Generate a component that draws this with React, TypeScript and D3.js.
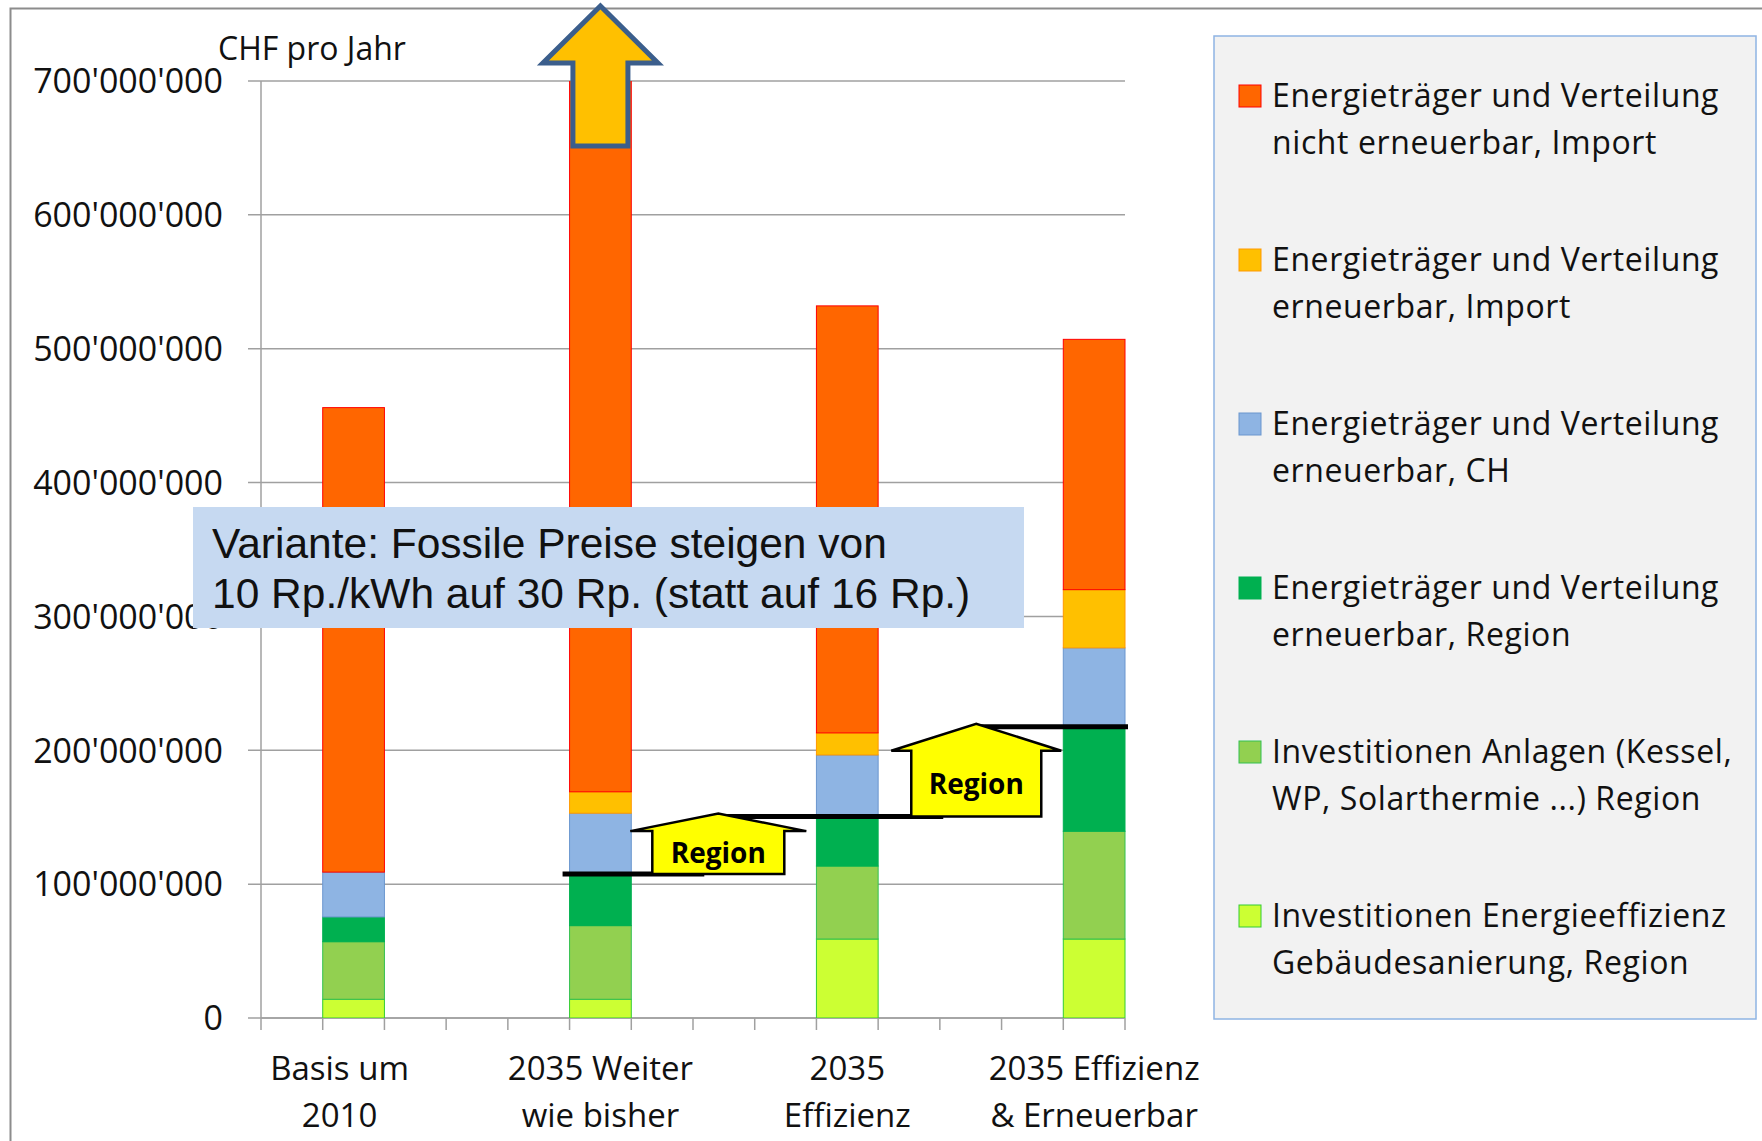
import React from 'react';
import * as d3 from 'd3';

// categories sit in every 4th slot of a 14-slot axis (Excel style with empty columns)
const categories = ['Basis um 2010', '2035 Weiter wie bisher', '2035 Effizienz', '2035 Effizienz & Erneuerbar'];
const categoryLines = [['Basis um', '2010'], ['2035 Weiter', 'wie bisher'], ['2035', 'Effizienz'], ['2035 Effizienz', '& Erneuerbar']];
const categorySlots = [1, 5, 9, 13];
const slotCount = 14;

// CHF pro Jahr, in Millionen (bottom to top of each stack)
const gebaeude = [14, 14, 59, 59];
const anlagen = [43, 55, 54.5, 80.5];
const etRegion = [18.5, 38.5, 37, 78];
const etCH = [33.5, 45.5, 46, 59];
const etErnImport = [0, 16, 16.5, 43.5];
const etNichtErnImport = [347, 780, 319, 187];

const yTicks = [0, 100, 200, 300, 400, 500, 600, 700];

const seriesKeys = ['gebaeude', 'anlagen', 'etRegion', 'etCH', 'etErnImport', 'etNichtErnImport'];
const seriesFill: Record<string, string> = {
  gebaeude: '#CCFF33',
  anlagen: '#92D050',
  etRegion: '#00B050',
  etCH: '#8EB4E3',
  etErnImport: '#FFC000',
  etNichtErnImport: '#FF6600',
};
const seriesStroke: Record<string, string> = {
  gebaeude: '#33CC33',
  anlagen: '#33C050',
  etRegion: '#00B050',
  etCH: '#6A96CE',
  etErnImport: '#FF9900',
  etNichtErnImport: '#FF0000',
};
const legendItems = [
  { key: 'etNichtErnImport', lines: ['Energieträger und Verteilung', 'nicht erneuerbar, Import'] },
  { key: 'etErnImport', lines: ['Energieträger und Verteilung', 'erneuerbar, Import'] },
  { key: 'etCH', lines: ['Energieträger und Verteilung', 'erneuerbar, CH'] },
  { key: 'etRegion', lines: ['Energieträger und Verteilung', 'erneuerbar, Region'] },
  { key: 'anlagen', lines: ['Investitionen Anlagen (Kessel,', 'WP, Solarthermie ...) Region'] },
  { key: 'gebaeude', lines: ['Investitionen Energieeffizienz', 'Gebäudesanierung, Region'] },
];

const note = ['Variante: Fossile Preise steigen von', '10 Rp./kWh auf 30 Rp. (statt auf 16 Rp.)'];

const sans = "'Open Sans', sans-serif";

export default function App() {
  const width = 1762;
  const height = 1141;
  const plot = { left: 261, right: 1125, top: 81, bottom: 1018 };

  const x = d3.scaleBand<number>().domain(d3.range(slotCount)).range([plot.left, plot.right]).padding(0);
  const y = d3.scaleLinear().domain([0, 700e6]).range([plot.bottom, plot.top]);
  const bw = x.bandwidth();

  const rows = categories.map((c, i) => ({
    slot: categorySlots[i],
    gebaeude: gebaeude[i] * 1e6,
    anlagen: anlagen[i] * 1e6,
    etRegion: etRegion[i] * 1e6,
    etCH: etCH[i] * 1e6,
    etErnImport: etErnImport[i] * 1e6,
    etNichtErnImport: etNichtErnImport[i] * 1e6,
  }));
  const stacked = d3.stack<any>().keys(seriesKeys)(rows);

  const fmt = (v: number) => d3.format(',')(v).replace(/,/g, "'");

  // regional share = Gebäude + Anlagen + Energieträger Region
  const regional = rows.map(r => r.gebaeude + r.anlagen + r.etRegion);

  const arrowPath = (xc: number, yBottom: number, yTop: number, bodyHalf: number, wingHalf: number) => {
    const tip = yTop - 3;
    const shoulder = yBottom - 0.71 * (yBottom - tip);
    return `M${xc - bodyHalf},${yBottom} L${xc - bodyHalf},${shoulder} L${xc - wingHalf},${shoulder} L${xc},${tip} L${xc + wingHalf},${shoulder} L${xc + bodyHalf},${shoulder} L${xc + bodyHalf},${yBottom} Z`;
  };

  const a1x = (x(7) as number) + 0.41 * bw;
  const a2x = (x(11) as number) + 0.59 * bw;
  const lv1 = y(regional[1]);
  const lv2 = y(regional[2]);
  const lv3 = y(regional[3]);

  const weiterCx = (x(categorySlots[1]) as number) + bw / 2;
  const bigArrow = (() => {
    const tip = plot.top - 75;
    const sh = plot.top - 18;
    const bot = plot.top + 65;
    return `M${weiterCx - 27.5},${bot} L${weiterCx - 27.5},${sh} L${weiterCx - 57.5},${sh} L${weiterCx},${tip} L${weiterCx + 57.5},${sh} L${weiterCx + 27.5},${sh} L${weiterCx + 27.5},${bot} Z`;
  })();

  return (
    <div style={{ position: 'absolute', left: 0, top: 0 }}>
      <svg width={width} height={height} style={{ display: 'block', background: '#fff' }}>
        <defs>
          <clipPath id="plotClip">
            <rect x={plot.left - 2} y={plot.top} width={plot.right - plot.left + 4} height={plot.bottom - plot.top} />
          </clipPath>
        </defs>
        {/* outer frame */}
        <rect x={10.5} y={8.5} width={1800} height={1200} fill="none" stroke="#8C8C8C" strokeWidth={2} />

        {/* gridlines + y labels */}
        {yTicks.map(t => (
          <g key={t}>
            <line x1={plot.left - 13} x2={plot.right} y1={y(t * 1e6)} y2={y(t * 1e6)} stroke="#A0A0A0" strokeWidth={1.5} />
            <text x={223} y={y(t * 1e6)} dy="0.36em" textAnchor="end" fontFamily={sans} fontSize={34} fill="#111">
              {fmt(t * 1e6)}
            </text>
          </g>
        ))}
        <text x={218} y={60} fontFamily={sans} fontSize={32} fill="#111">CHF pro Jahr</text>

        {/* axes */}
        <line x1={plot.left} x2={plot.left} y1={plot.top} y2={plot.bottom} stroke="#A0A0A0" strokeWidth={1.5} />
        <line x1={plot.left} x2={plot.right} y1={plot.bottom} y2={plot.bottom} stroke="#A0A0A0" strokeWidth={1.5} />
        {d3.range(slotCount + 1).map(i => {
          const xx = plot.left + i * bw;
          return <line key={i} x1={xx} x2={xx} y1={plot.bottom} y2={plot.bottom + 12} stroke="#A0A0A0" strokeWidth={1.5} />;
        })}

        {/* bars */}
        <g clipPath="url(#plotClip)">
          {stacked.map(s => (
            <g key={s.key}>
              {s.map((d, i) => {
                const h = y(d[0]) - y(d[1]);
                if (h <= 0) return null;
                return (
                  <rect
                    key={i}
                    x={x(rows[i].slot)}
                    y={y(d[1])}
                    width={bw}
                    height={h}
                    fill={seriesFill[s.key]}
                    stroke={seriesStroke[s.key]}
                    strokeWidth={1}
                  />
                );
              })}
            </g>
          ))}
        </g>

        {/* x labels */}
        {categoryLines.map((lines, i) => {
          const cx = (x(categorySlots[i]) as number) + bw / 2 + (i === 0 ? -14 : 0);
          return (
            <text key={i} textAnchor="middle" fontFamily={sans} fontSize={33} fill="#111">
              <tspan x={cx} y={1080}>{lines[0]}</tspan>
              <tspan x={cx} y={1127}>{lines[1]}</tspan>
            </text>
          );
        })}

        {/* note box */}
        <rect x={193} y={507} width={831} height={121} fill="#C6D9F1" />
        <text fontFamily="'Liberation Sans', Arial, sans-serif" fontSize={42.5} fill="#111">
          <tspan x={212} y={558}>{note[0]}</tspan>
          <tspan x={212} y={608}>{note[1]}</tspan>
        </text>

        {/* regional step lines */}
        <g stroke="#000" strokeWidth={5}>
          <line x1={(x(5) as number) - 7} x2={a1x - 14} y1={lv1} y2={lv1} />
          <line x1={a1x} x2={a2x - 33} y1={lv2} y2={lv2} />
          <line x1={a2x} x2={(x(13) as number) + bw + 3} y1={lv3} y2={lv3} />
        </g>
        <path d={arrowPath(a1x, lv1, lv2, 66, 88)} fill="#FFFF00" stroke="#000" strokeWidth={2.5} strokeLinejoin="miter" />
        <path d={arrowPath(a2x, lv2, lv3, 65, 85)} fill="#FFFF00" stroke="#000" strokeWidth={2.5} strokeLinejoin="miter" />
        {[[a1x, lv1, lv2], [a2x, lv2, lv3]].map(([ax, b, t], i) => {
          const tip = t - 3;
          const sh = b - 0.71 * (b - tip);
          return (
            <text key={i} x={ax} y={(sh + b) / 2 + 10} textAnchor="middle" fontFamily={sans} fontWeight="bold" fontSize={28} fill="#000">
              Region
            </text>
          );
        })}

        {/* off-scale arrow */}
        <path d={bigArrow} fill="#FFC000" stroke="#3B5E8C" strokeWidth={5} strokeLinejoin="miter" />

        {/* legend */}
        <rect x={1214} y={36} width={542} height={983} fill="#F2F2F2" stroke="#8EB4E3" strokeWidth={1.5} />
        {legendItems.map((it, i) => {
          const base = 107 + i * 164;
          return (
            <g key={it.key}>
              <rect x={1239} y={base - 22} width={22} height={22} fill={seriesFill[it.key]} stroke={seriesStroke[it.key]} strokeWidth={1} />
              <text fontFamily={sans} fontSize={32} letterSpacing={0.6} fill="#111">
                <tspan x={1272} y={base}>{it.lines[0]}</tspan>
                <tspan x={1272} y={base + 46.5}>{it.lines[1]}</tspan>
              </text>
            </g>
          );
        })}
      </svg>
    </div>
  );
}
